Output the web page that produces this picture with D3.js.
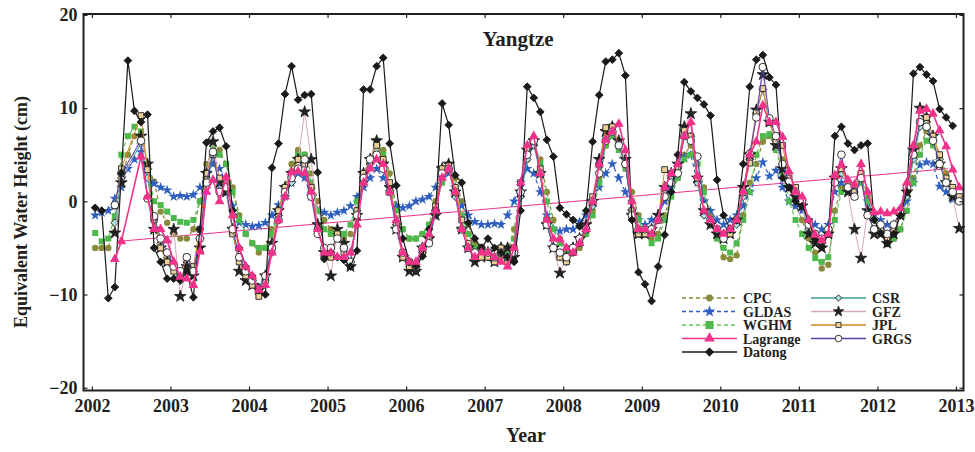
<!DOCTYPE html>
<html>
<head>
<meta charset="utf-8">
<script src="https://cdn.jsdelivr.net/npm/d3@7"></script>
<style>
body { margin: 0; background: #fff; }
text { font-family: "Liberation Serif", "Times New Roman", serif; font-weight: bold; fill: #231f20; }
</style>
</head>
<body>
<svg id="chart" width="975" height="452"></svg>
<script>
// monthly values, Jan 2002 .. Jan 2013 (133 months), null = no data
let startYear = 2002;
let yearTicks = [2002, 2003, 2004, 2005, 2006, 2007, 2008, 2009, 2010, 2011, 2012, 2013];
let valueTicks = [-20, -10, 0, 10, 20];

let cpc = [
    -5, -5, -5, -2, 2, 5, 7, 7, 4, 2.1, -1.1, -2.3,
    -3.5, -4, -4, -3, 0, 4, 5.5, 5.5, 4, 1.5, -1.5, -3.5,
    -4.5, -5.5, -5, -3, -1, 1.5, 4, 5.5, 5, 3, 0, -2,
    -3, -3.5, -4, -3.5, -1, 2, 4, 6, 5.5, 3, -0.5, -3,
    -4, -4, -3.5, -2.5, 0, 2.5, 4, 2.5, 0, -2.5, -4.5, -5,
    -5.5, -6, -6, -5.5, -3, 1, 4.5, 6, 4.5, 1, -2, -4,
    -5, -5.5, -5, -3.5, -1, 2.5, 6, 7, 6, 4, 1, -1.5,
    -3, -4, -3.5, -1.5, 1, 2.5, 5, 6, 4, 1.5, -1.5, -3.5,
    -6, -6.2, -5.8, -1.5, 2, 4, 6.4, 7, 6, 4.5, 1.5, -0.5,
    -2, -4, -5.5, -7.2, -6.8, -1, 1.5, 2, 1, 3, 0.5, -2,
    -3.5, -4.5, -4, -3, -1, 2.5, 6, 7.5, 7, 5, 3, 1.5,
    null
];
let gldas = [
    -1.5, -1.2, -1, 0.3, 1.5, 3.5, 4.5, 5.3, 3.3, 1.9, 1.5, 1.2,
    0.5, 0.6, 0.5, 0.7, 1.5, 3, 4, 3.5, 2, -0.5, -2.3, -2.5,
    -2.7, -2.6, -2.3, -1.5, -0.4, 0.5, 2, 3, 2.5, 0.5, -1, -1.2,
    -1.5, -1.2, -1, -0.5, 0.5, 1.5, 2.5, 3.5, 2.5, 1, -0.5, -0.7,
    -0.5, 0, 0.2, 0.5, 1.5, 2.5, 3, 1.5, -0.5, -1.5, -2.2, -2.5,
    -2.5, -2.4, -2.5, -1.5, 0, 2, 3.5, 3, 1, -1.5, -3, -3.2,
    -3, -3, -2.2, -1.5, 0, 1.5, 3, 4, 2.5, 1, -1, -2,
    -2.5, -2, -1.5, 0, 1.5, 3, 4.7, 5, 2, 0, -1, -2,
    -2.5, -2, -1.5, -0.5, 1, 2.5, 4.2, 2.7, 3.3, 1.5, 0, -0.5,
    -1, -2, -2.5, -3, -2.5, 1, 2, 1, 1.5, 2, 0, -1.5,
    -2, -2.5, -2.5, -1.5, 0, 2, 3.9, 4.2, 4, 1.6, 1, 0.2,
    null
];
let wghm = [
    -3.4, -4.3, -4, -1.6, 5, 7, 8, 7.5, 4, 0, -0.4, -1.1,
    -1.8, -2.2, -2.3, -2, 0, 3, 6, 5, 4, 1, -2, -3.5,
    -4.5, -5, -5, -3.5, -1, 1.5, 3, 5, 5, 2, -1, -3,
    -3.5, -3.5, -3.5, -2.5, 0, 2.5, 4.5, 6.5, 5, 2, -1, -3,
    -4, -4, -3.5, -2.5, -0.5, 2, 3.5, 1.5, -1.5, -3.5, -5, -5.5,
    -6, -6, -5.5, -5.5, -4, 1, 5, 6.5, 4, 0, -3, -4.5,
    -5.5, -5, -4.5, -3.5, -1.5, 2, 6, 7, 5.5, 3.5, 0, -2,
    -3.5, -4.5, -4, -2, 0.5, 2.5, 4.5, 5, 4, 1, -2, -4,
    -5, -5.5, -4.5, -2, 1, 5, 7, 7.2, 5.5, 3, 0, -2,
    -3.5, -5, -6.1, -6.5, -6, -2, 1, 1.5, 1, 2, 0, -2,
    -3.5, -4.5, -4, -3, -1, 2, 5, 6.5, 6, 4, 2, 0.5,
    null
];
let lagrange = [
    null, null, null, -6.2, -4.3, null, null, 4.8, 0.5, -3, -3, -4.2,
    -6.5, -8.1, -8.3, -9, -5.4, 1, 2.3, 0, 2.6, -1.5, -5, -7,
    -8, -9.5, -9, -5.5, -2, 0.5, 3.1, 3.2, 3, 1, -3, -5.5,
    -5.5, -6, -6, -5.5, -2.5, 2, 3.5, 4.5, 4, 1, -2, -5.5,
    -6.5, -6.5, -5, -3.5, -1, 2.5, 3.5, 1, -3, -5, -6, -5.5,
    -5.5, -6, -6.5, -7, -5, 2, 6, 7, 3, -2, -4, -4.1,
    -5, -5.5, -4.5, -3, 0, 4, 6.6, 7.5, 8.3, 5.5, 0, -3,
    -3, -3.5, -2, 1.5, 3, 4, 7, 8.5, 2.7, -1, -2, -3,
    -3.5, -3, -2, 1, 5, 6.4, 10.3, 8.5, 8.5, 6.9, 3.2, 1,
    0.5, -2, -3.6, -4.2, -3.5, 2.8, 3.9, 2.3, 1.8, 4, 1, -1.2,
    -1.1, -1.3, -1.1, -0.8, 2, 6, 9.7, 9.9, 9.4, 7.6, 5.9, 3.4,
    1.5
];
let datong = [
    -0.7, -1, -10.4, -9.2, 3, 15.1, 9.7, 8.5, 9.3, -5, -6.5, -8.3,
    -8.3, -8.5, -7.6, -10.3, -3, 6.3, 7.5, 7.9, 5.9, -1, -5, -7,
    -8, -9.5, -10, 3.6, 6.2, 11.5, 14.5, 10.9, 11.4, 11.5, 3.1, -6.2,
    -5.5, -6, -6.3, -7, -5.3, 12, 12, 14.5, 15.4, 6.2, 1.7, -4,
    -6.5, -7, -5.9, -3, -1, 10.5, 8.2, 2.8, 2, -2.3, -4, -5,
    -4, -5, -5.5, -6, -6.5, -1, 12.3, 11.1, 9.6, 6.6, 4.8, -0.7,
    -1.4, -2, -2.7, -1, 6.4, 11.4, 15, 15.2, 15.9, 13.5, -2, -7.6,
    -8.9, -10.7, -7, -3.6, 1, 5, 12.8, 11.8, 11.1, 10.4, 9.2, 2.3,
    -1.5, -3, -2, 4, 12.3, 15.2, 15.7, 13.3, 12.5, 2.5, 1.5, 0,
    -0.5, -2, -4.1, -4.9, -3.5, 7, 8, 6.2, 5.5, 6, 6.2, -2,
    -3.4, -4.5, -3.5, -1.5, 1, 13.7, 14.4, 13.6, 12.9, 9.9, 9, 8.1,
    null
];
let csr = [
    null, null, null, -2.3, 2.5, null, null, 6.2, 2.5, -2, -4.5, -6,
    -7, -8, -6.5, -7.5, -4, 1.5, 5, 1.5, 1, -3, -6, -7.5,
    -8.5, -9.2, -8, -5.5, -1.5, 0.5, 2, 3.5, 4.5, 1, -3, -5,
    -5.5, -3.5, -5, -6.5, -1, 2, 4, 5.5, 4, 1.5, -2.5, -6,
    -7, -7.5, -5.5, -4, -1.5, 3, 3.5, 0.5, -3, -5, -6, -5.5,
    -6, -6.5, -5, -6, -5.5, 0.5, 4.5, 6, 3, -2.5, -5, -6,
    -6.5, -5.5, -4, -3, -0.5, 4, 7, 7.5, 6, 4, -1, -3.5,
    -3.5, -3, -2, 1, 2.5, 4, 7.6, 7, 2, -1.5, -2.5, -3.5,
    -4, -3, -2.5, 0.5, 4.5, 9.5, 12, 8.5, 6.5, 4, 1.5, 0.5,
    -0.5, -3, -4, -4.5, -3.5, 2, 3, 1.5, 1, 2.5, -1.5, -3,
    -3, -4, -3, -1.5, 0.5, 4.5, 8, 8.5, 6.5, 4.5, 2, 1,
    0
];
let gfz = [
    null, null, null, -3.4, 2, null, null, 7, 4, -3, -5, -6.5,
    -3, -10.2, -7, -8, -5, 3, 6.4, 2, 1, -3, -7.5, -8.5,
    -9, -9.5, -8, -4.5, -1, 1.5, 3, 4.5, 9.6, 4.5, -2.5, -5.5,
    -8, -3, -4.5, -7, -1.5, 3, 4.5, 6.5, 4, 1.5, -3, -6,
    -7.5, -7.5, -5, -4, -1.5, 3.5, 4, 1, -3, -5, -6.5, -6,
    -5.5, -6.5, -5, -5, -6, 1, 5.5, 6.5, 3, -2.5, -5, -7.7,
    -6, -5, -4, -2.5, 0, 4.5, 7.5, 8, 6.5, 4.5, -1.5, -3.5,
    -3.5, -3, -1.5, 1.5, 3, 4, 8, 9.4, 2.5, -1, -2.5, -3.5,
    -4, -3.5, -2, 1.5, 5, 9.8, 13.6, 8.5, 6, 3.5, 1.5, 0.5,
    -0.5, -3.5, -4.5, -5, -3.5, 2.5, 3.5, 1, -3, -6.1, -1, -3.5,
    -3.5, -4.5, -3.5, -1.5, 1, 5.5, 10, 9, 7, 4, 2, 0.5,
    -2.9
];
let jpl = [
    null, null, null, -0.5, 3.5, null, null, 9.2, 3.4, -2, -5, -6.5,
    -7.5, -8, -6, -7, -3, 3, 5, 2.5, 2, -3.5, -6.5, -8,
    -9, -10.2, -8.5, -5, -1, 1.5, 3, 4.5, 4, 1.5, -3, -5.5,
    -6, -3.5, -5.5, -7, -1, 3, 4.5, 6, 4.5, 2, -2.5, -6,
    -7, -7, -5.5, -4, -0.5, 3.5, 3.8, 1.5, -2, -4.5, -6, -6,
    -6, -6.5, -5, -6.5, -5, 2, 5.5, 6.5, 3.5, -2, -5, -6,
    -6.5, -5.5, -4.5, -3, 0.5, 3.9, 7.9, 8, 6, 4, -1, -3.5,
    -3.5, -3, -2, 3.4, 3, 3.7, 7.6, 7, 2.5, -1, -2, -3,
    -3.5, -3.5, -2, 1, 4.1, 9.5, 12.1, 8.5, 6.5, 6, 2.5, 1.5,
    0, -2.5, -4, -4.5, -3.5, 2, 3.5, 2, 1, 3, -1.5, -3,
    -3, -4, -3, -1.5, 1, 5, 8.5, 9, 7, 5, 2.5, 1.5,
    0.5
];
let grgs = [
    null, null, null, -0.4, 3, null, null, 6.5, 0.3, -1.6, -4, -5.5,
    -7, -7.5, -6, -7.5, -4, 2, 5.3, 1, 1.5, -3, -6, -7.5,
    -8.5, -9.5, -8, -5, -2, 1, 2.5, 3.5, 4.5, 0.5, -3.5, -5,
    -5, -4, -5, -6.5, -1.5, 2.5, 4.5, 5, 3.5, 1, -3, -5.5,
    -6.5, -7, -5, -4.5, -1, 3, 3.5, 1, -3, -5, -5.5, -5,
    -5.5, -6, -5.5, -6, -5.5, 1, 5, 6.5, 3, -2.5, -5, -5.5,
    -6, -5, -4, -3, 0, 3, 6.5, 7.5, 6, 4, -1.5, -3,
    -3, -3, -2, 0.5, 2, 3, 7, 6.5, 4.8, -0.5, -2, -3,
    -4, -3, -2, 1, 5.1, 9, 14.4, 8.9, 7, 4, 2.1, 1,
    0, -2.5, -3.5, -4, -3, 2, 5, 1.5, 0.5, 2.5, -1.5, -3,
    -2.5, -3.5, -2.5, -1, 1.5, 5, 8.5, 8, 6.5, 4, 2, 1,
    0
];
// linear trend of the Lagrange series
let trendYears = [2002.33, 2012.9];
let trendValues = [-4.3, 3.5];

let svg = d3.select("#chart");
let margin = { left: 83.5, right: 963.5, top: 14, bottom: 390.5 };

let x = d3.scaleLinear().domain([2001.893, 2013.096]).range([margin.left, margin.right]);
let y = d3.scaleLinear().domain([-20.3, 20.1]).range([margin.bottom, margin.top]);

function monthTime(i) {
    return startYear + (i + 0.5) / 12;
}

let starSym = d3.symbolStar;
let diamondSym = d3.symbolDiamond2 || d3.symbolDiamond;

let series = [
    { name: "CPC", data: cpc, color: "#8a8a3c", dash: "4,3", width: 1.2, sym: d3.symbolCircle, size: 32, fill: "#8a8a3c", stroke: "none" },
    { name: "GLDAS", data: gldas, color: "#2e5ec0", dash: "4,3", width: 1.2, sym: starSym, size: 34, fill: "#2e5ec0", stroke: "none" },
    { name: "WGHM", data: wghm, color: "#5cc45c", dash: "4,3", width: 1.2, sym: d3.symbolSquare, size: 36, fill: "#4db94d", stroke: "none" },
    { name: "CSR", data: csr, color: "#3a9c9c", dash: null, width: 1, sym: diamondSym, size: 38, fill: "#a8e0e0", stroke: "#222" },
    { name: "GFZ", data: gfz, color: "#d8a6bd", dash: null, width: 1, sym: starSym, size: 42, fill: "#222", stroke: "#222" },
    { name: "JPL", data: jpl, color: "#d4861c", dash: null, width: 1, sym: d3.symbolSquare, size: 34, fill: "#ecd09a", stroke: "#222" },
    { name: "GRGS", data: grgs, color: "#5544aa", dash: null, width: 1, sym: d3.symbolCircle, size: 46, fill: "#fff", stroke: "#222" },
    { name: "Datong", data: datong, color: "#1a1a1a", dash: null, width: 1.2, sym: diamondSym, size: 38, fill: "#1a1a1a", stroke: "#1a1a1a" },
    { name: "Lagrange", data: lagrange, color: "#f0328a", dash: null, width: 1.6, sym: d3.symbolTriangle, size: 42, fill: "#f0328a", stroke: "none" }
];

let line = d3.line().x(d => x(d.t)).y(d => y(d.v));

let plot = svg.append("g");

// trend line
plot.append("path")
    .datum(trendYears.map((t, i) => ({ t: t, v: trendValues[i] })))
    .attr("fill", "none")
    .attr("stroke", "#f0328a")
    .attr("stroke-width", 1)
    .attr("d", line);

series.forEach(s => {
    let pts = s.data.map((v, i) => ({ t: monthTime(i), v: v })).filter(d => d.v !== null);
    let g = plot.append("g");
    g.append("path")
        .datum(pts)
        .attr("fill", "none")
        .attr("stroke", s.color)
        .attr("stroke-width", s.width)
        .attr("stroke-dasharray", s.dash)
        .attr("stroke-linejoin", "round")
        .attr("d", line);
    g.selectAll("path.m")
        .data(pts)
        .enter().append("path")
        .attr("class", "m")
        .attr("transform", d => "translate(" + x(d.t) + "," + y(d.v) + ")")
        .attr("d", d3.symbol().type(s.sym).size(s.size))
        .attr("fill", s.fill)
        .attr("stroke", s.stroke)
        .attr("stroke-width", 0.9);
});

// frame and ticks
let fmt = d => d < 0 ? "\u2212" + Math.abs(d) : String(d);

let xb = svg.append("g").attr("transform", "translate(0," + margin.bottom + ")")
    .call(d3.axisBottom(x).tickValues(yearTicks).tickFormat(d3.format("d")).tickSizeInner(-4).tickSizeOuter(0).tickPadding(9));
let xt = svg.append("g").attr("transform", "translate(0," + margin.top + ")")
    .call(d3.axisTop(x).tickValues(yearTicks).tickFormat("").tickSizeInner(-4).tickSizeOuter(0));
let yl = svg.append("g").attr("transform", "translate(" + margin.left + ",0)")
    .call(d3.axisLeft(y).tickValues(valueTicks).tickFormat(fmt).tickSizeInner(-4).tickSizeOuter(0).tickPadding(6));
let yr = svg.append("g").attr("transform", "translate(" + margin.right + ",0)")
    .call(d3.axisRight(y).tickValues(valueTicks).tickFormat("").tickSizeInner(-4).tickSizeOuter(0));

[xb, xt, yl, yr].forEach(a => {
    a.select(".domain").remove();
    a.selectAll(".tick line").attr("stroke", "#231f20").attr("stroke-width", 1.2);
    a.selectAll(".tick text").style("font-size", "18px").attr("fill", "#231f20");
});

svg.append("rect")
    .attr("x", margin.left).attr("y", margin.top)
    .attr("width", margin.right - margin.left).attr("height", margin.bottom - margin.top)
    .attr("fill", "none").attr("stroke", "#231f20").attr("stroke-width", 2);

// titles
svg.append("text").attr("x", 518).attr("y", 46).attr("text-anchor", "middle")
    .style("font-size", "21px").text("Yangtze");
svg.append("text").attr("x", 526).attr("y", 442).attr("text-anchor", "middle")
    .style("font-size", "20px").text("Year");
svg.append("text").attr("transform", "translate(27,212) rotate(-90)").attr("text-anchor", "middle")
    .style("font-size", "18px").text("Equivalent Water Height (cm)");

// legend
let legendOrder = [
    ["CPC", 682, 298], ["GLDAS", 682, 311.5], ["WGHM", 682, 325], ["Lagrange", 682, 338.5], ["Datong", 682, 352],
    ["CSR", 811, 298], ["GFZ", 811, 311.5], ["JPL", 811, 325], ["GRGS", 811, 338.5]
];
let legendSize = { CPC: 36, GLDAS: 44, WGHM: 64, Lagrange: 50, Datong: 44, CSR: 26, GFZ: 34, JPL: 26, GRGS: 34 };
legendOrder.forEach(([name, lx, ly]) => {
    let s = series.find(d => d.name === name);
    let g = svg.append("g");
    g.append("line").attr("x1", lx).attr("x2", lx + 55).attr("y1", ly).attr("y2", ly)
        .attr("stroke", s.color).attr("stroke-width", 1.3).attr("stroke-dasharray", s.dash);
    g.append("path")
        .attr("transform", "translate(" + (lx + 27.5) + "," + ly + ")")
        .attr("d", d3.symbol().type(s.sym).size(legendSize[name]))
        .attr("fill", s.fill).attr("stroke", s.stroke).attr("stroke-width", 0.9);
    g.append("text").attr("x", lx + 61).attr("y", ly + 5).style("font-size", "14px").text(name);
});
</script>
</body>
</html>
